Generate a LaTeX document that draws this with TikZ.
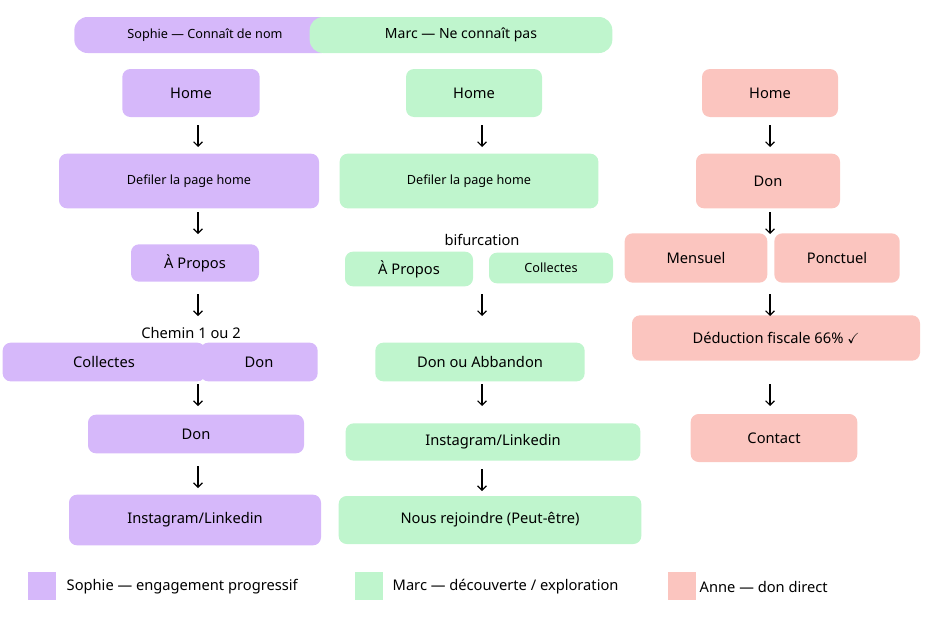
\documentclass[tikz,border=0pt]{standalone}
\usepackage{amssymb}
\usepackage{fontspec}
\setmainfont{Noto Sans}
\usetikzlibrary{arrows.meta}
\definecolor{sophie}{HTML}{D6B8FA}
\definecolor{marc}{HTML}{BFF5CD}
\definecolor{anne}{HTML}{FBC5BF}
\begin{document}
\begin{tikzpicture}[x=0.75pt,y=-0.75pt,>=Straight Barb,
  box/.style={rounded corners=6pt,inner sep=0pt,font=\fontsize{11}{13}\selectfont},
  small/.style={font=\fontsize{9.5}{11}\selectfont},
  pill/.style={rounded corners=10pt,inner sep=0pt,font=\fontsize{9.5}{11}\selectfont},
  lbl/.style={font=\fontsize{11}{13}\selectfont},
  flow/.style={->,line width=0.9pt}]
  \useasboundingbox (0,0) rectangle (948,639);
  %
  % Headers
  \node[pill,fill=sophie,minimum width=196,minimum height=27] (hs) at (205,35) {Sophie — Connaît de nom};
  \node[pill,fill=marc,minimum width=227,minimum height=27,font=\fontsize{10.5}{12}\selectfont] (hm) at (461,35) {Marc — Ne connaît pas};
  %
  % Sophie
  \node[box,fill=sophie,minimum width=103,minimum height=36] (s1) at (191,93) {Home};
  \node[box,small,fill=sophie,minimum width=195,minimum height=41] (s2) at (189,181) {Defiler la page home};
  \node[box,fill=sophie,minimum width=96,minimum height=28] (s3) at (195,263) {À Propos};
  \node[lbl] (sc) at (191,333) {Chemin 1 ou 2};
  \node[box,fill=sophie,minimum width=152,minimum height=29] (s4) at (104,362) {Collectes};
  \node[box,fill=sophie,minimum width=88,minimum height=29] (s5) at (259,362) {Don};
  \node[box,fill=sophie,minimum width=162,minimum height=29] (s6) at (196,434) {Don};
  \node[box,fill=sophie,minimum width=189,minimum height=38] (s7) at (195,520) {Instagram/Linkedin};
  %
  % Marc
  \node[box,fill=marc,minimum width=102,minimum height=36] (m1) at (474,93) {Home};
  \node[box,small,fill=marc,minimum width=194,minimum height=41] (m2) at (469,181) {Defiler la page home};
  \node[lbl] (mb) at (482,240) {bifurcation};
  \node[box,fill=marc,minimum width=96,minimum height=26] (m3) at (409,269) {À Propos};
  \node[box,small,fill=marc,minimum width=93,minimum height=23] (m4) at (551,268) {Collectes};
  \node[box,fill=marc,minimum width=157,minimum height=29] (m5) at (480,362) {\textbf{Don} ou Abbandon};
  \node[box,fill=marc,minimum width=221,minimum height=28] (m6) at (493,442) {Instagram/Linkedin};
  \node[box,fill=marc,minimum width=227,minimum height=36] (m7) at (490,520) {Nous rejoindre (Peut-être)};
  %
  % Anne
  \node[box,fill=anne,minimum width=102,minimum height=36] (a1) at (770,93) {Home};
  \node[box,fill=anne,minimum width=108,minimum height=41] (a2) at (768,181) {Don};
  \node[box,fill=anne,minimum width=107,minimum height=37] (a3) at (696,258) {Mensuel};
  \node[box,fill=anne,minimum width=94,minimum height=37] (a4) at (837,258) {Ponctuel};
  \node[box,fill=anne,minimum width=216,minimum height=34] (a5) at (776,338) {Déduction fiscale 66\% $\checkmark$};
  \node[box,fill=anne,minimum width=125,minimum height=36] (a6) at (774,438) {Contact};
  %
  % Steps
  \foreach \x/\y in {198/136,198/223,198/305,198/395,198/477,
                     482/136,482/305,482/395,482/480,
                     770/136,770/223,770/305,770/395}
    \draw[flow] (\x,\y-11) -- (\x,\y+11);
  %
  % Legend
  \node[fill=sophie,minimum size=21pt,inner sep=0pt] (ks) at (42,586) {};
  \node[lbl,anchor=west] (ts) at (62,587) {Sophie — engagement progressif};
  \node[fill=marc,minimum size=21pt,inner sep=0pt] (km) at (369,586) {};
  \node[lbl,anchor=west] (tm) at (388,587) {Marc — découverte / exploration};
  \node[fill=anne,minimum size=21pt,inner sep=0pt] (ka) at (682,586) {};
  \node[lbl,anchor=west] (ta) at (695,587) {Anne — don direct};
\end{tikzpicture}
\end{document}
